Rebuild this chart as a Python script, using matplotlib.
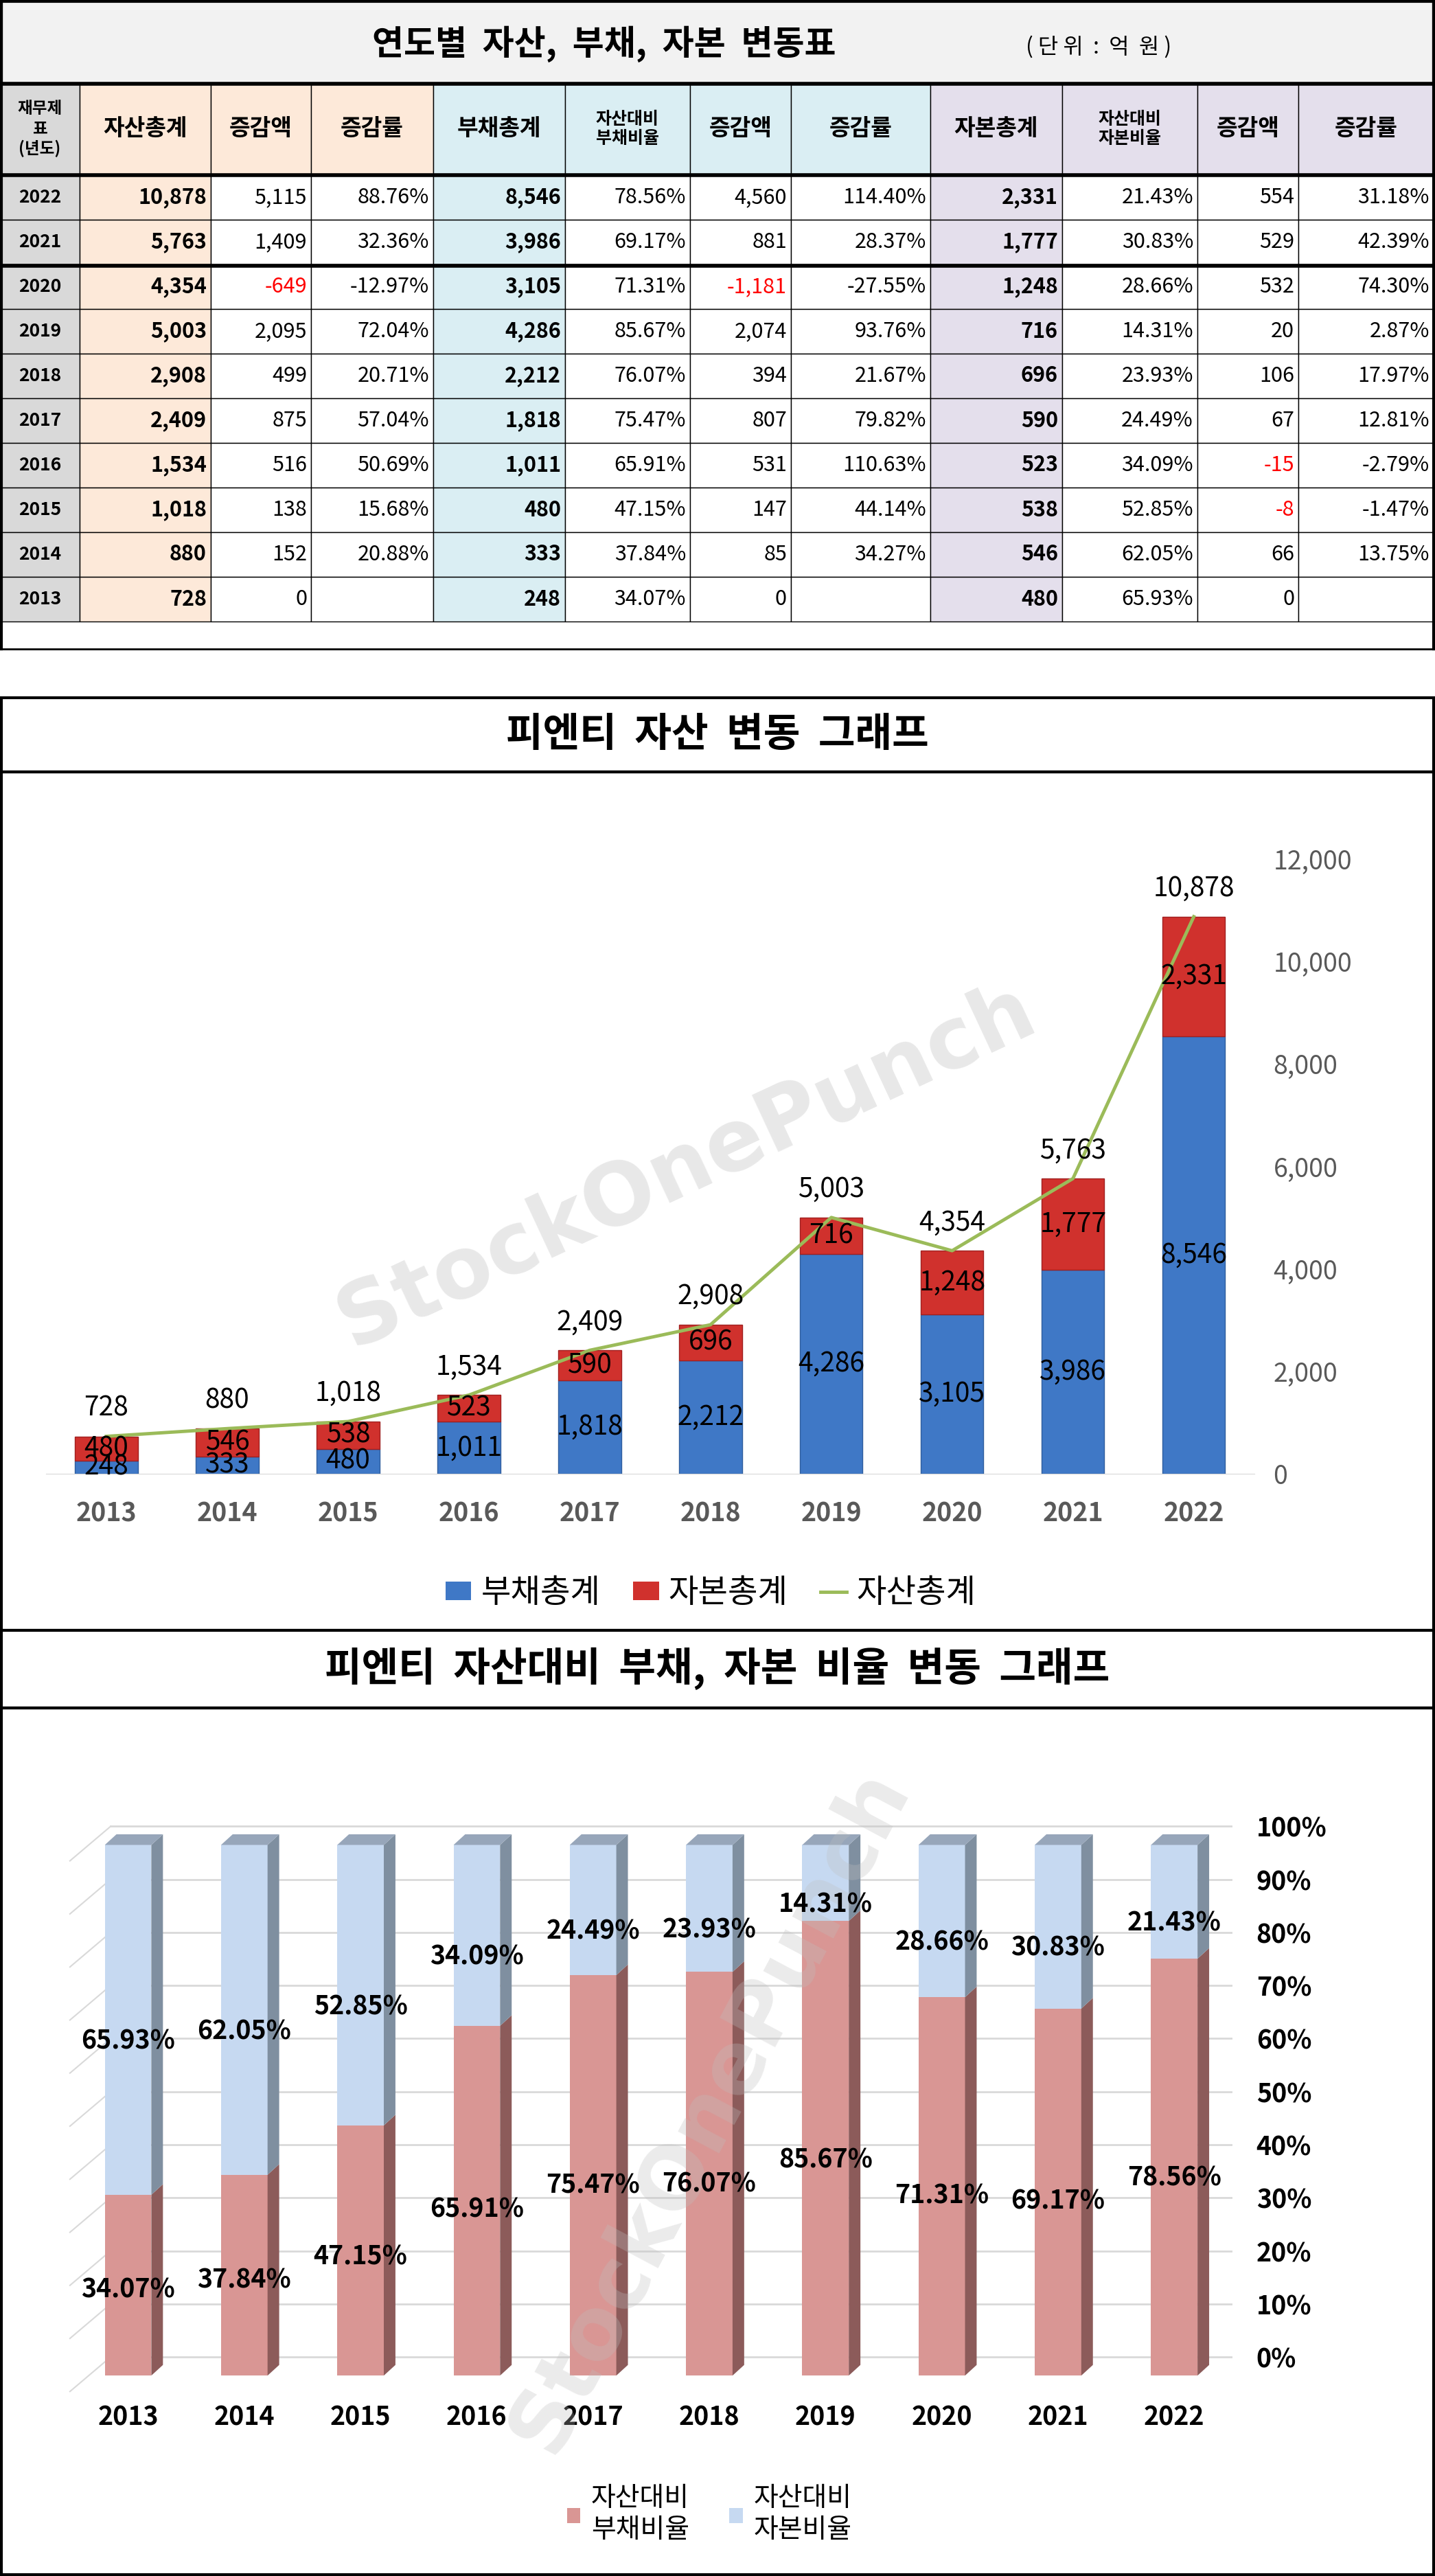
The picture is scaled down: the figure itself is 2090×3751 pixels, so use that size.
import matplotlib
matplotlib.use("Agg")
import matplotlib.pyplot as plt
from matplotlib.patches import Rectangle, Polygon
from matplotlib.lines import Line2D
import numpy as np

plt.rcParams["font.family"] = ["Noto Sans CJK KR", "Noto Sans CJK JP", "Noto Sans CJK SC", "DejaVu Sans"]

years = [2022, 2021, 2020, 2019, 2018, 2017, 2016, 2015, 2014, 2013]
assets = [10878, 5763, 4354, 5003, 2908, 2409, 1534, 1018, 880, 728]
asset_chg = [5115, 1409, -649, 2095, 499, 875, 516, 138, 152, 0]
asset_rate = ["88.76%", "32.36%", "-12.97%", "72.04%", "20.71%", "57.04%", "50.69%", "15.68%", "20.88%", ""]
liab = [8546, 3986, 3105, 4286, 2212, 1818, 1011, 480, 333, 248]
liab_ratio = [78.56, 69.17, 71.31, 85.67, 76.07, 75.47, 65.91, 47.15, 37.84, 34.07]
liab_chg = [4560, 881, -1181, 2074, 394, 807, 531, 147, 85, 0]
liab_rate = ["114.40%", "28.37%", "-27.55%", "93.76%", "21.67%", "79.82%", "110.63%", "44.14%", "34.27%", ""]
equity = [2331, 1777, 1248, 716, 696, 590, 523, 538, 546, 480]
eq_ratio = [21.43, 30.83, 28.66, 14.31, 23.93, 24.49, 34.09, 52.85, 62.05, 65.93]
eq_chg = [554, 529, 532, 20, 106, 67, -15, -8, 66, 0]
eq_rate = ["31.18%", "42.39%", "74.30%", "2.87%", "17.97%", "12.81%", "-2.79%", "-1.47%", "13.75%", ""]
headers = ["재무제\n표\n(년도)", "자산총계", "증감액", "증감률", "부채총계", "자산대비\n부채비율", "증감액", "증감률",
           "자본총계", "자산대비\n자본비율", "증감액", "증감률"]

W, H = 2090, 3751
fig = plt.figure(figsize=(W / 100, H / 100), dpi=100)
bg = fig.add_axes([0, 0, 1, 1])
bg.set_xlim(0, W); bg.set_ylim(H, 0); bg.axis("off")

cols = [0, 116, 307, 453, 631, 823, 1005, 1152, 1355, 1547, 1744, 1891, 2088]
gray, peach, blue, lav = "#D9D9D9", "#FDE9D9", "#DAEEF3", "#E4DFEC"
hdr_col = [gray] + [peach] * 3 + [blue] * 4 + [lav] * 4
row_col = [gray, peach, "white", "white", blue, "white", "white", "white", lav, "white", "white", "white"]

bg.add_patch(Rectangle((2, 2), W - 4, 120, fc="#F2F2F2", ec="black", lw=3))
bg.text(880, 64, "연도별  자산,  부채,  자본  변동표", fontsize=36, ha="center", va="center", weight="bold")
bg.text(1600, 68, "( 단 위  :  억  원 )", fontsize=23, ha="center", va="center")

for j in range(12):
    bg.add_patch(Rectangle((cols[j], 122), cols[j + 1] - cols[j], 133, fc=hdr_col[j], ec="black", lw=1))
    fs = 18 if "\n" in headers[j] else 24
    if j == 0:
        fs = 17
    bg.text((cols[j] + cols[j + 1]) / 2, 188, headers[j], fontsize=fs, ha="center", va="center",
            weight="bold", linespacing=1.25)

rh = 65
for i in range(10):
    y0 = 255 + i * rh
    vals = [str(years[i]), f"{assets[i]:,}", f"{asset_chg[i]:,}", asset_rate[i], f"{liab[i]:,}",
            f"{liab_ratio[i]:.2f}%", f"{liab_chg[i]:,}", liab_rate[i], f"{equity[i]:,}",
            f"{eq_ratio[i]:.2f}%", f"{eq_chg[i]:,}", eq_rate[i]]
    for j in range(12):
        bg.add_patch(Rectangle((cols[j], y0), cols[j + 1] - cols[j], rh, fc=row_col[j], ec="black", lw=1))
        color = "black"
        if j in (2, 6, 10) and vals[j].startswith("-"):
            color = "#FF0000"
        bold = j in (1, 4, 8)
        if j == 0:
            bg.text((cols[j] + cols[j + 1]) / 2, y0 + rh / 2, vals[j], fontsize=19, ha="center",
                    va="center", weight="bold")
        else:
            bg.text(cols[j + 1] - 6, y0 + rh / 2, vals[j], fontsize=22, ha="right", va="center",
                    weight="bold" if bold else "normal", color=color)
for yy in [122, 255, 387]:
    bg.plot([0, W], [yy, yy], color="black", lw=4)
bg.plot([2, 2], [0, 945], color="black", lw=3)
bg.plot([W - 2, W - 2], [0, 945], color="black", lw=3)
bg.plot([0, W], [945, 945], color="black", lw=2)

for (t0, t1, b1, title) in [(1016, 1124, 2374, "피엔티  자산  변동  그래프"),
                            (2374, 2487, 3749, "피엔티  자산대비  부채,  자본  비율  변동  그래프")]:
    bg.add_patch(Rectangle((2, t0), W - 4, t1 - t0, fc="white", ec="black", lw=3))
    bg.add_patch(Rectangle((2, t1), W - 4, b1 - t1, fc="none", ec="black", lw=3))
    bg.text(W / 2, (t0 + t1) / 2, title, fontsize=42, ha="center", va="center", weight="bold")

yrs = years[::-1]
x = np.arange(10)

# ---------- chart 1
ax1 = fig.add_axes([0.032, 1 - 897 / 1568, 0.842, 374 / 1568])
ax1.patch.set_alpha(0)
L = np.array(liab[::-1]); E = np.array(equity[::-1]); A = np.array(assets[::-1])
ax1.bar(x, L, 0.52, color="#3F78C6", edgecolor="#2F5E9E", lw=1)
ax1.bar(x, E, 0.52, bottom=L, color="#D0312D", edgecolor="#A02020", lw=1)
ax1.plot(x, A, color="#9BBB59", lw=3.5)
for i in range(10):
    ax1.text(x[i], L[i] / 2, f"{L[i]:,}", ha="center", va="center", fontsize=28)
    ax1.text(x[i], L[i] + E[i] / 2, f"{E[i]:,}", ha="center", va="center", fontsize=28)
    ax1.text(x[i], A[i] + 550, f"{A[i]:,}", ha="center", va="center", fontsize=28)
ax1.set_xlim(-0.5, 9.5); ax1.set_ylim(0, 12000)
ax1.set_yticks(range(0, 12001, 2000))
ax1.set_yticklabels([f"{v:,}" for v in range(0, 12001, 2000)], fontsize=27, color="#595959")
ax1.yaxis.tick_right()
ax1.tick_params(axis="y", length=0, pad=20)
ax1.set_xticks(x)
ax1.set_xticklabels([str(v) for v in yrs], fontsize=27, weight="bold", color="#595959")
ax1.tick_params(axis="x", length=0, pad=28)
for s in ["top", "right", "left"]:
    ax1.spines[s].set_visible(False)
ax1.spines["bottom"].set_color("#D9D9D9")
hs = [Rectangle((0, 0), 1, 1, fc="#3F78C6"), Rectangle((0, 0), 1, 1, fc="#D0312D"),
      Line2D([0], [0], color="#9BBB59", lw=3.5)]
ax1.legend(hs, ["부채총계", "자본총계", "자산총계"], loc="upper center", bbox_to_anchor=(0.55, -0.12),
           ncol=3, frameon=False, fontsize=34, handlelength=0.8, handleheight=0.5,
           handletextpad=0.3, columnspacing=1.0)
ax1.text(4.8, 6000, "StockOnePunch", fontsize=90, weight="bold", color="#BFBFBF", alpha=0.35,
         rotation=25, ha="center", va="center", fontfamily="DejaVu Sans")

# ---------- chart 2
ax2 = fig.add_axes([42.6 / 874, 1 - 1446 / 1568, 708 / 874, 1.07 * 323 / 1568])
ax2.patch.set_alpha(0)
LR = np.array(liab_ratio[::-1]) / 100; ER = np.array(eq_ratio[::-1]) / 100
gdy = 0.035
ax2.set_xlim(-0.5, 9.5); ax2.set_ylim(0, 1.07)
for k in range(11):
    v = k / 10 + gdy
    ax2.plot([-0.15, 9.55], [v, v], color="#D9D9D9", lw=2, zorder=0)
    ax2.plot([-0.5, -0.15], [k / 10 - 0.03, v], color="#D9D9D9", lw=1.5, zorder=0, clip_on=False)
w, dx, dy = 0.4, 0.1, 0.02
for i in range(10):
    l, r = x[i] - w / 2, x[i] + w / 2
    segs = [(0, LR[i], "#D99694", "#8C5B5A"), (LR[i], 1.0, "#C6D9F1", "#7F8FA0")]
    for (y0, y1, cf, cs) in segs:
        ax2.add_patch(Rectangle((l, y0), w, y1 - y0, fc=cf, ec="none", zorder=2))
        ax2.add_patch(Polygon([(r, y0), (r + dx, y0 + dy), (r + dx, y1 + dy), (r, y1)],
                              fc=cs, ec="none", zorder=2))
    ax2.add_patch(Polygon([(l, 1), (l + dx, 1 + dy), (r + dx, 1 + dy), (r, 1)], fc="#97A6BA",
                          ec="none", zorder=2))
    ax2.text(x[i], LR[i] / 2 * 0.95, f"{LR[i]*100:.2f}%", ha="center", va="center", fontsize=27,
             weight="bold", zorder=4)
    ax2.text(x[i], LR[i] + ER[i] / 2 - 0.04, f"{ER[i]*100:.2f}%", ha="center", va="center",
             fontsize=27, weight="bold", zorder=4)
ax2.set_yticks([k / 10 + gdy for k in range(11)])
ax2.set_yticklabels([f"{k*10}%" for k in range(11)], fontsize=27, weight="bold")
ax2.yaxis.tick_right()
ax2.tick_params(axis="y", length=0, pad=25)
ax2.set_xticks(x)
ax2.set_xticklabels([str(v) for v in yrs], fontsize=27, weight="bold")
ax2.tick_params(axis="x", length=0, pad=30)
for s in ax2.spines.values():
    s.set_visible(False)
h1 = Rectangle((0, 0), 1, 1, fc="#D99694")
h2 = Rectangle((0, 0), 1, 1, fc="#C6D9F1")
ax2.legend([h1, h2], ["자산대비\n부채비율", "자산대비\n자본비율"], loc="upper center",
           bbox_to_anchor=(0.55, -0.15), ncol=2, frameon=False, fontsize=28,
           handlelength=0.5, handleheight=0.5, handletextpad=0.4, columnspacing=1.5)
ax2.text(5.0, 0.5, "StockOnePunch", fontsize=90, weight="bold", color="#BFBFBF", alpha=0.3,
         rotation=62, ha="center", va="center", zorder=3, fontfamily="DejaVu Sans")

fig.savefig("out.png", dpi=100)
